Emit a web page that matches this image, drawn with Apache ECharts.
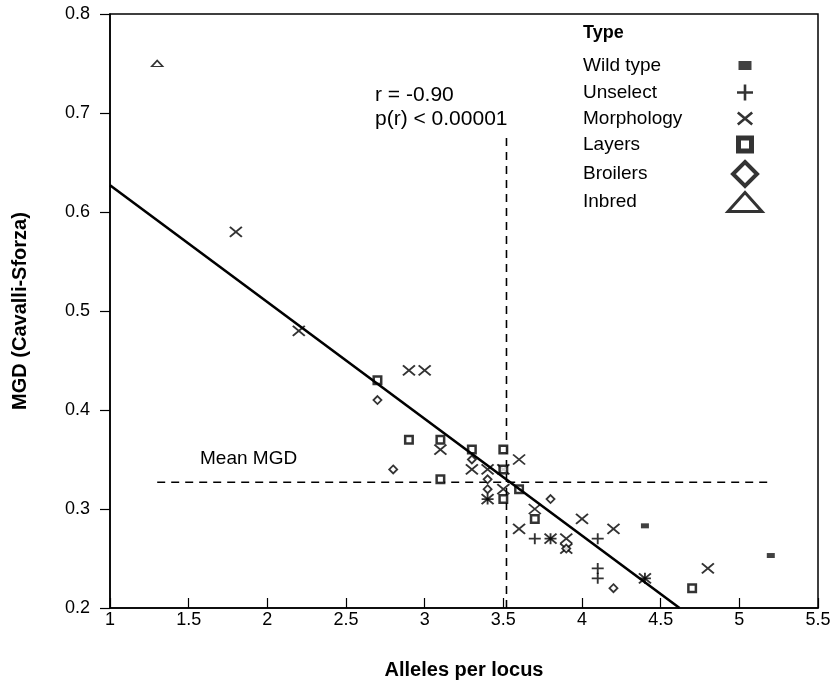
<!DOCTYPE html>
<html><head><meta charset="utf-8">
<script src="https://cdn.jsdelivr.net/npm/echarts@6/dist/echarts.min.js"></script>
<style>html,body{margin:0;padding:0;background:#fff}#c{width:838px;height:685px}</style>
</head><body><div id="c"></div>
<script>
// ---- data ----
const wildType = [[4.4,0.283],[5.2,0.253]];
const unselect = [[3.4,0.31],[3.7,0.27],[3.8,0.27],[4.1,0.27],[4.1,0.24],[4.1,0.23],[4.4,0.23]];
const morphology = [[1.8,0.58],[2.2,0.48],[2.9,0.44],[3.0,0.44],[3.1,0.36],[3.3,0.34],[3.4,0.34],[3.5,0.34],
  [3.6,0.35],[3.5,0.32],[3.4,0.31],[3.7,0.30],[3.6,0.28],[3.8,0.27],[3.9,0.27],[3.9,0.26],[4.0,0.29],
  [4.2,0.28],[4.4,0.23],[4.8,0.24]];
const layers = [[2.7,0.43],[2.9,0.37],[3.1,0.37],[3.1,0.33],[3.3,0.36],[3.5,0.36],[3.5,0.34],[3.5,0.31],
  [3.6,0.32],[3.7,0.29],[4.7,0.22]];
const broilers = [[2.7,0.41],[2.8,0.34],[3.3,0.35],[3.4,0.33],[3.4,0.32],[3.8,0.31],[3.9,0.26],[4.2,0.22]];
const inbred = [[1.3,0.75]];
const fitLine = [[1,0.627],[4.62,0.2]];
const meanMGD = 0.327;
const meanLine = [[1.3,meanMGD],[5.2,meanMGD]];
const splitX = 3.52;
const splitLine = [[splitX,0.2],[splitX,0.675]];
const typeNames = ['Wild type','Unselect','Morphology','Layers','Broilers','Inbred'];
const xTicks = {min:1, max:5.5, interval:0.5};
const yTicks = {min:0.2, max:0.8, interval:0.1};

// ---- styles ----
const FONT = 'Liberation Sans, Arial, Helvetica, sans-serif';
const X_PATH = 'path://M0,0L12,10M12,0L0,10';
const PLUS_PATH = 'path://M6,0L6,12M0,6L12,6';
const strokeOnly = (w) => ({color:'rgba(0,0,0,0)', borderColor:'#000', borderWidth:w});
const hollow = (w) => ({color:'#fff', borderColor:'#000', borderWidth:w});

const scatterDefs = [
  {name:typeNames[0], data:wildType, symbol:'rect', size:[8,5], style:{color:'#111'}},
  {name:typeNames[1], data:unselect, symbol:PLUS_PATH, size:[12,11], style:strokeOnly(1.8)},
  {name:typeNames[2], data:morphology, symbol:X_PATH, size:[12,10], style:strokeOnly(1.8)},
  {name:typeNames[3], data:layers, symbol:'rect', size:[7.5,7.5], style:hollow(2.5)},
  {name:typeNames[4], data:broilers, symbol:'diamond', size:[8,8], style:hollow(1.8)},
  {name:typeNames[5], data:inbred, symbol:'triangle', size:[11,6], style:hollow(1.5)}
];

const legendDefs = [
  {icon:'rect', w:13, h:9, bw:0, row:66},
  {icon:PLUS_PATH, w:17, h:16, bw:2.6, row:93},
  {icon:X_PATH, w:16, h:12, bw:2.6, row:119},
  {icon:'rect', w:13, h:13, bw:5, row:145},
  {icon:'diamond', w:24, h:24, bw:4, row:172},
  {icon:'triangle', w:34, h:19, bw:3, row:201}
];
const ICON_CX = 745, LEG_LEFT = 583;

const legends = legendDefs.map((d,i) => {
  const W = ICON_CX - LEG_LEFT - 5 - d.w/2;
  const ch = Math.max(d.h, 20);
  return {
    left: LEG_LEFT, top: d.row - ch/2, orient:'vertical', align:'right',
    selectedMode:false, itemWidth:d.w, itemHeight:d.h, padding:0,
    data:[{name:typeNames[i], icon:d.icon}],
    itemStyle: d.bw ? {borderWidth:d.bw, borderColor:'#000'} : {borderWidth:0},
    formatter: n => '{a|' + n + '}',
    textStyle:{color:'#000', fontFamily:FONT, fontSize:19,
      rich:{a:{width:W, align:'left', fontSize:19, lineHeight:20, fontFamily:FONT, color:'#000'}}}
  };
});

const series = scatterDefs.map(s => ({
  type:'scatter', name:s.name, data:s.data, symbol:s.symbol, symbolSize:s.size,
  itemStyle:s.style, emphasis:{disabled:true}, z:3
}));
const lineBase = {type:'line', showSymbol:false, symbol:'none', silent:true, emphasis:{disabled:true}};
series.push(Object.assign({}, lineBase, {name:'fit', data:fitLine, lineStyle:{color:'#000', width:2.6}, z:4}));
series.push(Object.assign({}, lineBase, {name:'mean', data:meanLine, lineStyle:{color:'#000', width:1.6, type:[8,6]}, z:2}));
series.push(Object.assign({}, lineBase, {name:'split', data:splitLine, lineStyle:{color:'#000', width:1.6, type:[8,6]}, z:2}));

const axisText = {color:'#000', fontFamily:FONT, fontSize:18};
const chart = echarts.init(document.getElementById('c'), null, {renderer:'canvas'});
chart.setOption({
  animation:false,
  backgroundColor:'#fff',
  grid:{left:110, right:20, top:14, bottom:76, show:true, borderColor:'#000', borderWidth:1.5, backgroundColor:'transparent'},
  xAxis:{type:'value', min:xTicks.min, max:xTicks.max, interval:xTicks.interval,
    name:'Alleles per locus', nameLocation:'middle', nameGap:52,
    nameTextStyle:{color:'#000', fontFamily:FONT, fontSize:20, fontWeight:'bold'},
    axisLine:{lineStyle:{color:'#000', width:1.5}},
    axisTick:{inside:true, length:10, lineStyle:{color:'#000', width:1.2}},
    axisLabel:Object.assign({margin:3}, axisText),
    splitLine:{show:false}},
  yAxis:{type:'value', min:yTicks.min, max:yTicks.max, interval:yTicks.interval,
    name:'MGD (Cavalli-Sforza)', nameLocation:'middle', nameGap:80,
    nameTextStyle:{color:'#000', fontFamily:FONT, fontSize:20, fontWeight:'bold'},
    axisLine:{lineStyle:{color:'#000', width:1.5}},
    axisTick:{inside:false, length:10, lineStyle:{color:'#000', width:1.2}},
    axisLabel:Object.assign({margin:20, formatter:v => (+v).toFixed(1)}, axisText),
    splitLine:{show:false}},
  legend: legends,
  graphic:[
    {type:'text', left:LEG_LEFT, top:24, style:{text:'Type', font:'bold 18px ' + FONT, fill:'#000'}},
    {type:'text', left:375, top:83, style:{text:'r = -0.90\np(r) < 0.00001', font:'21px ' + FONT, fill:'#000', lineHeight:24}},
    {type:'text', left:200, top:449, style:{text:'Mean MGD', font:'19px ' + FONT, fill:'#000'}}
  ],
  series: series
});
</script>
</body></html>
